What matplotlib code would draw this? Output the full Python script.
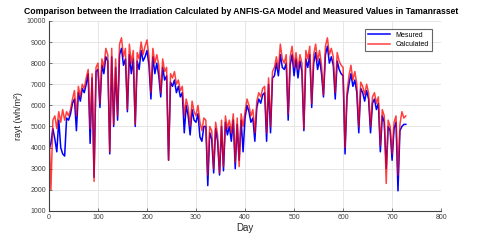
import numpy as np
import matplotlib
matplotlib.use("Agg")
import matplotlib.pyplot as plt

# day sampling (every 4 days over two years)
days = np.arange(0, 732, 4)

# measured irradiation (wh/m2)
measured = [
    3900, 4200, 4900, 4400, 3800, 5300, 4000, 3700, 3600, 5400,
    5300, 5600, 6100, 6300, 4800, 6600, 6200, 6800, 6600, 7000,
    7500, 4200, 7300, 2600, 7600, 7700, 5900, 7900, 7500, 8300,
    8100, 3700, 8300, 5000, 7800, 5300, 8400, 8700, 7900, 8200,
    5700, 8400, 7500, 8200, 5000, 8100, 7700, 8600, 8100, 8300,
    8600, 7900, 6300, 8300, 7500, 8000, 7400, 6400, 7800, 7200,
    7400, 3400, 7100, 6900, 7200, 6600, 6900, 6400, 6600, 4700,
    6000, 5500, 4600, 5800, 5300, 5200, 5600, 4500, 4300, 5000,
    5000, 2200, 4700, 4400, 2800, 4900, 4300, 2700, 5000, 2900,
    5200, 4600, 5000, 4300, 5300, 3000, 5100, 3400, 5300, 3800,
    5400, 6000, 5700, 5200, 5400, 4300, 5900, 6300, 6100, 6500,
    6600, 4300, 7000, 4700, 7300, 7400, 8000, 7400, 8400, 7800,
    7700, 8000, 5300, 7900, 8400, 7400, 8200, 7300, 8100, 7600,
    4800, 8200, 7800, 8400, 5900, 8000, 8500, 7700, 8200, 7500,
    6400, 8400, 8800, 8000, 8300, 7900, 6300, 8100, 7700, 7500,
    7400, 3700, 6400, 7000, 7500, 6900, 7200, 6600, 4700, 6800,
    6600, 6200, 6700, 6300, 4700, 6100, 6300, 5800, 6100, 3800,
    5500, 5200, 3000, 5000, 4800, 3400, 4900, 5200, 1950, 4800,
    5000, 5100, 5100,
]

# ANFIS-GA calculated irradiation (wh/m2)
calculated = [
    5000, 2000, 5300, 5500, 4900, 5700, 5200, 5800, 5300, 5700,
    5500, 5800, 6300, 6700, 5500, 6900, 6400, 7000, 6800, 7300,
    7700, 4900, 7500, 2400, 7800, 8000, 6100, 8200, 7800, 8700,
    8400, 3800, 8700, 5100, 8200, 5500, 8900, 9200, 8300, 8700,
    5800, 8900, 8000, 8600, 5100, 8500, 8200, 9000, 8400, 8800,
    9100, 8300, 6600, 8700, 8000, 8400, 7900, 6600, 8200, 7600,
    7800, 3400, 7500, 7300, 7600, 7000, 7200, 6700, 6900, 5500,
    6300, 5900, 5000, 6200, 5700, 5500, 6000, 5200, 4800, 5400,
    5300, 2700, 5000, 4800, 3000, 5200, 4600, 2800, 5300, 3100,
    5500, 4900, 5300, 4700, 5600, 3300, 5400, 3100, 5600, 5000,
    5700, 6300, 6000, 5500, 5800, 4700, 6200, 6600, 6400, 6800,
    6900, 4700, 7300, 5000, 7600, 7800, 8300, 7700, 8900, 8200,
    8000, 8400, 5600, 8300, 8800, 7800, 8500, 7700, 8400, 8000,
    4900, 8600, 8200, 8800, 6100, 8400, 8900, 8100, 8600, 7900,
    6500, 8800, 9200, 8400, 8700, 8300, 6600, 8500, 8100, 7900,
    7800, 4000, 6600, 7400, 7900, 7200, 7600, 7000, 5000, 7100,
    6900, 6500, 7000, 6600, 5000, 6400, 6600, 6100, 6400, 4100,
    5800, 5500, 2300, 5300, 5000, 3700, 5200, 5500, 2700, 5100,
    5700, 5400, 5500,
]

plt.rcParams['font.family'] = ['Liberation Sans', 'DejaVu Sans']

fig = plt.figure(figsize=(4.8, 2.52), dpi=100)
ax = fig.add_axes([0.102, 0.163, 0.817, 0.754])

ax.plot(days, measured, color='blue', lw=1.1, label='Mesured')
ax.plot(days, calculated, color='red', lw=1.1, alpha=0.75, label='Calculated')

ax.set_xlim(0, 800)
ax.set_ylim(1000, 10000)
ax.set_xticks(range(0, 801, 100))
ax.set_yticks(range(1000, 10001, 1000))
ax.grid(True, color='#e3e3e3', lw=0.6)
ax.set_axisbelow(True)
for s in ['top', 'right']:
    ax.spines[s].set_visible(False)
for s in ['left', 'bottom']:
    ax.spines[s].set_color('#404040')
    ax.spines[s].set_linewidth(0.8)
ax.tick_params(direction='in', length=2, width=0.5, labelsize=5, colors='#404040', pad=2)

ax.set_xlabel('Day', fontsize=7, color='#262626', labelpad=2)
ax.set_ylabel('rayt (wh/m²)', fontsize=6.5, color='#262626', labelpad=3)
ax.set_title('Comparison between the Irradiation Calculated by ANFIS-GA Model and Measured Values in Tamanrasset',
             fontsize=6.2, fontweight='bold', pad=5, x=0.49)

leg = ax.legend(loc='upper right', bbox_to_anchor=(0.985, 0.975), fontsize=5, frameon=True,
                fancybox=False, edgecolor='#404040', handlelength=3.2, borderpad=0.4,
                labelspacing=0.3)
leg.get_frame().set_linewidth(0.8)

fig.savefig('out.png', dpi=100)
